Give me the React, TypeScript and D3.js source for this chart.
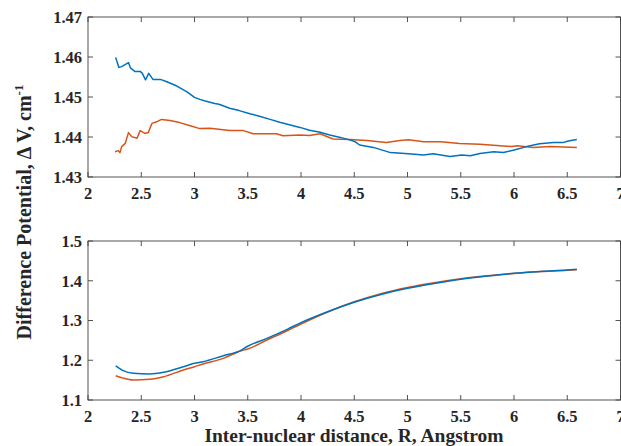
import React from "react";
import * as d3 from "d3";

const xTicks = [2, 2.5, 3, 3.5, 4, 4.5, 5, 5.5, 6, 6.5, 7];
const topYTicks = [1.43, 1.44, 1.45, 1.46, 1.47];
const botYTicks = [1.1, 1.2, 1.3, 1.4, 1.5];

// Top panel, blue series [R, value]
const topBlue: [number, number][] = [
  [2.26, 1.4599], [2.29, 1.4574], [2.316, 1.4576], [2.38, 1.4586], [2.40, 1.4572],
  [2.44, 1.4564], [2.49, 1.4564], [2.51, 1.4559], [2.54, 1.4543], [2.57, 1.4559],
  [2.61, 1.4544], [2.645, 1.4544], [2.68, 1.4544], [2.74, 1.4538], [2.83, 1.4528],
  [2.93, 1.4513], [3.0, 1.4499], [3.05, 1.4494], [3.10, 1.4490], [3.145, 1.4487],
  [3.19, 1.4484], [3.23, 1.4482], [3.33, 1.4472], [3.42, 1.4466], [3.52, 1.4458],
  [3.61, 1.4452], [3.71, 1.4444], [3.80, 1.4437], [3.90, 1.4430], [3.99, 1.4424],
  [4.08, 1.4417], [4.18, 1.4412], [4.27, 1.4405], [4.37, 1.4399], [4.44, 1.4394],
  [4.51, 1.4388], [4.55, 1.4380], [4.68, 1.4374], [4.84, 1.4361], [5.01, 1.4358],
  [5.15, 1.4355], [5.24, 1.4358], [5.40, 1.4351], [5.51, 1.4355], [5.59, 1.4353],
  [5.68, 1.4359], [5.81, 1.4363], [5.90, 1.4361], [6.01, 1.4368], [6.12, 1.4376],
  [6.24, 1.4383], [6.37, 1.4386], [6.46, 1.4386], [6.51, 1.4390], [6.59, 1.4394],
];

// Top panel, orange series
const topOrange: [number, number][] = [
  [2.254, 1.4363], [2.285, 1.4366], [2.30, 1.4361], [2.316, 1.4376], [2.35, 1.4384],
  [2.38, 1.4411], [2.41, 1.4401], [2.46, 1.4397], [2.49, 1.4416], [2.535, 1.4409],
  [2.566, 1.4411], [2.60, 1.4434], [2.645, 1.4438], [2.69, 1.4444], [2.77, 1.4441],
  [2.86, 1.4436], [2.96, 1.4428], [3.05, 1.4421], [3.145, 1.4422], [3.33, 1.4416],
  [3.46, 1.4416], [3.55, 1.4408], [3.77, 1.4408], [3.83, 1.4403], [3.99, 1.4405],
  [4.08, 1.4404], [4.18, 1.4408], [4.30, 1.4395], [4.46, 1.4394], [4.62, 1.4391],
  [4.80, 1.4386], [4.93, 1.4391], [5.01, 1.4393], [5.15, 1.4388], [5.31, 1.4388],
  [5.49, 1.4384], [5.68, 1.4382], [5.87, 1.4378], [5.98, 1.4376], [6.03, 1.4378],
  [6.18, 1.4374], [6.34, 1.4376], [6.59, 1.4374],
];

// Bottom panel, blue series
const botBlue: [number, number][] = [
  [2.26, 1.1858], [2.33, 1.1738], [2.425, 1.1671], [2.58, 1.1654], [2.71, 1.1697],
  [2.895, 1.1838], [3.0, 1.1923], [3.08, 1.1964], [3.27, 1.2115], [3.43, 1.2240],
  [3.49, 1.2340], [3.68, 1.2551], [3.87, 1.2778], [4.0, 1.2946], [4.25, 1.3220],
  [4.5, 1.3460], [4.75, 1.3655], [5.0, 1.3810], [5.25, 1.3930], [5.5, 1.4036],
  [5.75, 1.4118], [6.0, 1.4187], [6.25, 1.4235], [6.5, 1.4270], [6.59, 1.4287],
];

// Bottom panel, orange series
const botOrange: [number, number][] = [
  [2.26, 1.1612], [2.33, 1.1550], [2.425, 1.1503], [2.58, 1.1520], [2.71, 1.1587],
  [2.895, 1.1755], [3.0, 1.1838], [3.08, 1.1906], [3.27, 1.2048], [3.44, 1.2240],
  [3.50, 1.2283], [3.68, 1.2510], [3.87, 1.2743], [4.0, 1.2912], [4.25, 1.3215],
  [4.5, 1.3470], [4.75, 1.3675], [5.0, 1.3830], [5.25, 1.3950], [5.5, 1.4050],
  [5.75, 1.4125], [6.0, 1.4185], [6.25, 1.4230], [6.5, 1.4262], [6.59, 1.4278],
];

const BLUE = "#0072BD";
const ORANGE = "#D95319";
const AXIS = "#404040";
const FONT = "'Liberation Serif', 'Times New Roman', serif";

const X0 = 88;
const X1 = 620.5;

function Panel({ top, bottom, yDomain, yTicks, blue, orange, fmt, smooth }: any) {
  const x = d3.scaleLinear().domain([2, 7]).range([X0, X1]);
  const y = d3.scaleLinear().domain(yDomain).range([bottom, top]);
  const line = d3
    .line<[number, number]>()
    .x((d) => x(d[0]))
    .y((d) => y(d[1]))
    .curve(smooth ? d3.curveMonotoneX : d3.curveLinear);
  const tl = 5;
  return (
    <g>
      <rect x={X0} y={top} width={X1 - X0} height={bottom - top} fill="none" stroke={AXIS} strokeWidth={0.9} />
      {xTicks.map((t) => (
        <g key={"x" + t}>
          <line x1={x(t)} x2={x(t)} y1={bottom} y2={bottom - tl} stroke={AXIS} strokeWidth={0.9} />
          <line x1={x(t)} x2={x(t)} y1={top} y2={top + tl} stroke={AXIS} strokeWidth={0.9} />
          <text x={x(t)} y={bottom + 22} textAnchor="middle" fontFamily={FONT} fontWeight="bold" fontSize={16.5} fill="#262626">
            {String(t)}
          </text>
        </g>
      ))}
      {yTicks.map((t: number) => (
        <g key={"y" + t}>
          <line x1={X0} x2={X0 + tl} y1={y(t)} y2={y(t)} stroke={AXIS} strokeWidth={0.9} />
          <line x1={X1} x2={X1 - tl} y1={y(t)} y2={y(t)} stroke={AXIS} strokeWidth={0.9} />
          <text x={X0 - 6} y={y(t)} dy="0.35em" textAnchor="end" fontFamily={FONT} fontWeight="bold" fontSize={16.5} fill="#262626">
            {d3.format(fmt)(t)}
          </text>
        </g>
      ))}
      <path d={line(orange) || ""} fill="none" stroke={ORANGE} strokeWidth={1.5} strokeLinejoin="round" />
      <path d={line(blue) || ""} fill="none" stroke={BLUE} strokeWidth={1.5} strokeLinejoin="round" />
    </g>
  );
}

export default function App() {
  return (
    <svg width={621} height={446} style={{ position: "absolute", left: 0, top: 0, background: "#fff" }}>
      <rect width={621} height={446} fill="#fff" />
      <Panel top={17} bottom={177} yDomain={[1.43, 1.47]} yTicks={topYTicks} blue={topBlue} orange={topOrange} fmt=".2f" smooth={false} />
      <Panel top={241} bottom={400} yDomain={[1.1, 1.5]} yTicks={botYTicks} blue={botBlue} orange={botOrange} fmt=".1f" smooth={true} />
      <text
        transform="translate(31,212) rotate(-90)"
        textAnchor="middle"
        fontFamily={FONT}
        fontWeight="bold"
        fontSize={20}
        fill="#262626"
      >
        Difference Potential, Δ V, cm
        <tspan dy="-8" fontSize={13}>-1</tspan>
      </text>
      <text x={354} y={442} textAnchor="middle" fontFamily={FONT} fontWeight="bold" fontSize={19.5} fill="#262626">
        Inter-nuclear distance, R, Angstrom
      </text>
    </svg>
  );
}
